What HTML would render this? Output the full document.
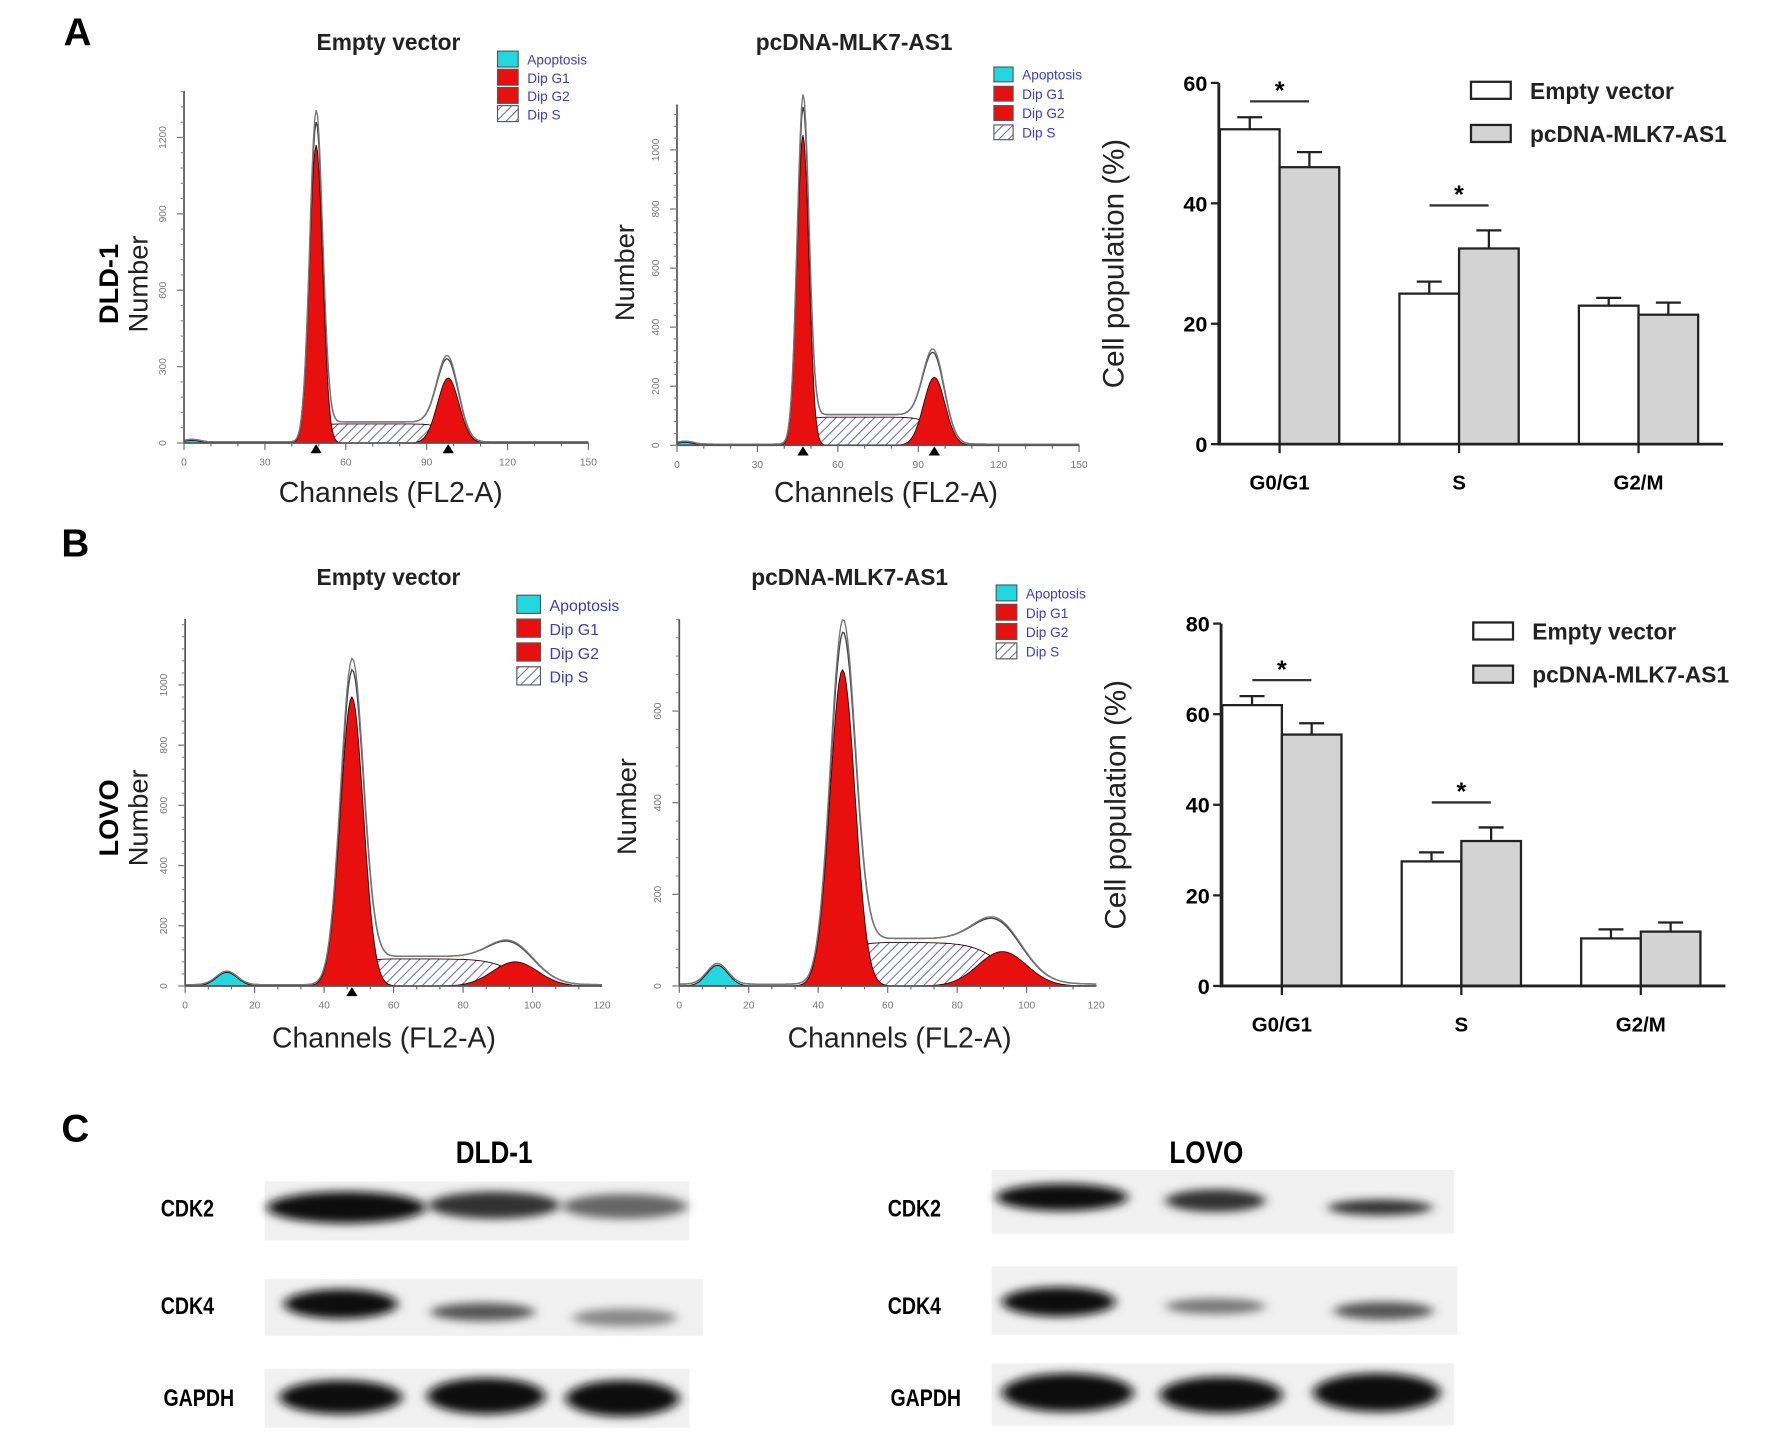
<!DOCTYPE html>
<html><head><meta charset="utf-8"><style>
html,body{margin:0;padding:0;background:#fff;}
svg{display:block;}
text{font-family:"Liberation Sans",Arial,sans-serif;}
</style></head><body>
<svg id="fig" width="1772" height="1446" viewBox="0 0 1560 1273" preserveAspectRatio="none" xmlns="http://www.w3.org/2000/svg">
<defs>
<pattern id="hatch" patternUnits="userSpaceOnUse" width="6" height="6" patternTransform="rotate(45)">
<rect width="6" height="6" fill="#fff"/><line x1="0" y1="0" x2="0" y2="6" stroke="#6a6ab0" stroke-width="1.8"/>
</pattern>
<filter id="blur" x="-30%" y="-80%" width="160%" height="260%"><feGaussianBlur stdDeviation="5 4"/></filter>
</defs>
<text x="56" y="40" font-size="34" font-weight="bold">A</text>
<text x="54" y="490" font-size="34" font-weight="bold">B</text>
<text x="54" y="1005" font-size="34" font-weight="bold">C</text>
<g id="hists"></g><g id="bars"></g><g id="blots"></g>
</svg>
<script>
// ---- histogram data ----
const histXMax = [150, 150, 120, 120];
const histXTickStep = [30, 30, 20, 20];
const histYTicks = [[0,300,600,900,1200],[0,200,400,600,800,1000],[0,200,400,600,800,1000],[0,200,400,600]];
const histG1Mean = [49, 47, 48, 47];
const histG1Height = [1170, 1050, 960, 690];
const histG1Sd = [2.4, 2.2, 3.3, 3.6];
const histG2Mean = [98, 96, 95, 93];
const histG2Height = [255, 230, 80, 75];
const histG2Sd = [4, 4, 6.5, 7];
const histSLevel = [75, 95, 90, 95];
const histApopMean = [3, 3, 12, 11];
const histApopHeight = [10, 10, 45, 45];
const histTitles = ['Empty vector','pcDNA-MLK7-AS1','Empty vector','pcDNA-MLK7-AS1'];
// ---- bar data ----
const barCategories = ['G0/G1','S','G2/M'];
const barAEmpty = [52.3, 25, 23];
const barAEmptyErr = [2, 2, 1.3];
const barAPc = [46, 32.5, 21.5];
const barAPcErr = [2.5, 3, 2];
const barATicks = [0, 20, 40, 60];
const barBEmpty = [62, 27.5, 10.5];
const barBEmptyErr = [2, 2, 2];
const barBPc = [55.5, 32, 12];
const barBPcErr = [2.5, 3, 2];
const barBTicks = [0, 20, 40, 60, 80];

const NS='http://www.w3.org/2000/svg';
function mk(tag, attrs, parent, txt){const e=document.createElementNS(NS,tag);for(const k in attrs)e.setAttribute(k,attrs[k]);if(txt!==undefined)e.textContent=txt;parent.appendChild(e);return e;}
const H=document.getElementById('hists');
const geo=[
 {x0:162,x1:518,base:390,yRef:121,ref:1200,top:80,tx:342,ty:44,lx:438,ly:45,lb:14,ls:16,lf:12,nx:130,ny:250,cx:344,cy:442,cell:'DLD-1',cellx:104},
 {x0:596,x1:950,base:392,yRef:132,ref:1000,top:92,tx:752,ty:44,lx:875,ly:59,lb:13,ls:17,lf:12,nx:558,ny:240,cx:780,cy:442},
 {x0:163,x1:530,base:868,yRef:603,ref:1000,top:545,tx:342,ty:515,lx:455,ly:524,lb:16,ls:21,lf:14,nx:130,ny:720,cx:338,cy:922,cell:'LOVO',cellx:104},
 {x0:598,x1:965,base:868,yRef:626,ref:600,top:545,tx:748,ty:515,lx:877,ly:515,lb:14,ls:17,lf:12,nx:560,ny:710,cx:792,cy:922}
];
function g(x,m,h,s){return h*Math.exp(-0.5*((x-m)/s)**2);}
geo.forEach((G,i)=>{
 const grp=mk('g',{},H);
 
 
 const xm=histXMax[i];
 const px=x=>G.x0+x/xm*(G.x1-G.x0);
 const k=(G.base-G.yRef)/G.ref;
 const py=v=>G.base-v*k;
 const S=x=>histSLevel[i]*0.5*(1+Math.tanh((x-histG1Mean[i])/(histG1Sd[i]*1.2)))*0.5*(1-Math.tanh((x-histG2Mean[i])/(histG2Sd[i]*1.2)));
 const G1=x=>g(x,histG1Mean[i],histG1Height[i],histG1Sd[i]);
 const G2=x=>g(x,histG2Mean[i],histG2Height[i],histG2Sd[i]);
 const A=x=>g(x,histApopMean[i],histApopHeight[i],3);
 function area(f,fill,name){let d='M'+px(0)+','+G.base;for(let x=0;x<=xm;x+=0.5)d+=' L'+px(x).toFixed(1)+','+py(f(x)).toFixed(1);d+=' L'+px(xm)+','+G.base+'Z';const p=mk('path',{d:d,fill:fill,stroke:'#300',"stroke-width":0.8},grp);}
 area(S,'url(#hatch)','s-phase-area');
 area(A,'#22d8e0','apoptosis-area');
 area(G1,'#e8100e','g1-area');
 area(G2,'#e8100e','g2-area');
 [0,1].forEach(j=>{let d='';for(let x=0;x<=xm;x+=0.5){const v=G1(x)*(1.04+j*0.04)+G2(x)*(1.12+j*0.05)+S(x)*1.05+A(x)+4;d+=(x?' L':'M')+px(x).toFixed(1)+','+py(v).toFixed(1);}const p=mk('path',{d:d,fill:'none',stroke:j?'#777':'#444',"stroke-width":1.2},grp);});
 const ax=mk('path',{d:`M${G.x0},${G.top} V${G.base} H${G.x1}`,fill:'none',stroke:'#555',"stroke-width":1.5},grp);
 
 for(let x=0;x<=xm;x+=histXTickStep[i]/3){mk('line',{x1:px(x),x2:px(x),y1:G.base,y2:G.base+(Math.abs(x/histXTickStep[i]-Math.round(x/histXTickStep[i]))<0.01?6:3),stroke:'#666'},grp);}
 for(let x=0;x<=xm;x+=histXTickStep[i]){const t=mk('text',{x:px(x),y:G.base+20,"font-size":9,fill:'#777',"text-anchor":'middle'},grp,x);}
 histYTicks[i].forEach(v=>{mk('line',{x1:G.x0-6,x2:G.x0,y1:py(v),y2:py(v),stroke:'#666'},grp);const t=mk('text',{x:G.x0-16,y:py(v),"font-size":9,fill:'#777',"text-anchor":'middle',transform:`rotate(-90 ${G.x0-16} ${py(v)})`},grp,v);});
 for(let y=G.base;y>G.top;y-=(G.base-G.yRef)/(histYTicks[i].length-1)/5)mk('line',{x1:G.x0-3,x2:G.x0,y1:y,y2:y,stroke:'#888'},grp);
 [histG1Mean[i],histG2Mean[i]].forEach((m,j)=>{if(i===3||(i===2&&j===1))return;const x=px(m);const p=mk('path',{d:`M${x-5},${G.base+9} L${x+5},${G.base+9} L${x},${G.base+1}Z`,fill:'#000'},grp);});
 let t=mk('text',{x:G.tx,y:G.ty,"font-size":20,"font-weight":'bold',"text-anchor":'middle',fill:'#222'},grp,histTitles[i]);
 t=mk('text',{x:G.cx,y:G.cy,"font-size":25,"text-anchor":'middle',fill:'#222'},grp,'Channels (FL2-A)');
 t=mk('text',{x:G.nx,y:G.ny,"font-size":24,"text-anchor":'middle',fill:'#222',transform:`rotate(-90 ${G.nx} ${G.ny})`},grp,'Number');
 if(G.cell){t=mk('text',{x:G.cellx,y:G.ny,"font-size":24,"font-weight":'bold',"text-anchor":'middle',transform:`rotate(-90 ${G.cellx} ${G.ny})`},grp,G.cell);}
 const lg=mk('g',{},grp);
 [['Apoptosis','#22d8e0'],['Dip G1','#e8100e'],['Dip G2','#e8100e'],['Dip S','url(#hatch)']].forEach((e,j)=>{const y=G.ly+j*G.ls;mk('rect',{x:G.lx,y:y,width:G.lb*1.3,height:G.lb,fill:e[1],stroke:'#555'},lg);const tt=mk('text',{x:G.lx+G.lb*1.3+8,y:y+G.lb-2,"font-size":G.lf,fill:'#3a3ad0'},lg,e[0]);});
});
// ---- bar charts ----
const B=document.getElementById('bars');
function barChart(o){
 const grp=mk('g',{},B);
 const py=v=>o.base-v*(o.base-o.topY)/o.max;
 const gx=[o.x0+1,o.x0+159,o.x0+317];const bw=52.5;
 barCategories.forEach((c,j)=>{
  [[o.e[j],o.ee[j],'#fff',0],[o.p[j],o.pe[j],'#d3d3d3',1]].forEach(s=>{const x=gx[j]+s[3]*bw;
   const r=mk('rect',{x:x,y:py(s[0]),width:bw,height:o.base-py(s[0]),fill:s[2],stroke:'#222',"stroke-width":2},grp);
   const cx=x+bw/2;const eb=mk('path',{d:`M${cx},${py(s[0])} V${py(s[0]+s[1])} M${cx-11},${py(s[0]+s[1])} H${cx+11}`,stroke:'#222',"stroke-width":2,fill:'none'},grp);});
  mk('line',{x1:gx[j]+bw,x2:gx[j]+bw,y1:o.base,y2:o.base+8,stroke:'#222',"stroke-width":2},grp);
  const t=mk('text',{x:gx[j]+bw,y:o.base+40,"font-size":18,"font-weight":'bold',"text-anchor":'middle'},grp,c);
 });
 [0,1].forEach(j=>{const top=Math.max(o.e[j]+o.ee[j],o.p[j]+o.pe[j]);const y=py(top)-(j?22:14);const cx=gx[j]+bw;
  const l=mk('line',{x1:cx-26,x2:cx+26,y1:y,y2:y,stroke:'#333',"stroke-width":2},grp);
  const s=mk('text',{x:cx,y:y-2,"font-size":22,"font-weight":'bold',"text-anchor":'middle'},grp,'*');});
 const ax=mk('path',{d:`M${o.x0},${o.topY} V${o.base} H${o.x0+444}`,stroke:'#222',"stroke-width":2.5,fill:'none'},grp);
 o.ticks.forEach(v=>{mk('line',{x1:o.x0-7,x2:o.x0,y1:py(v),y2:py(v),stroke:'#222',"stroke-width":2},grp);const t=mk('text',{x:o.x0-10,y:py(v)+7,"font-size":19,"font-weight":'bold',"text-anchor":'end'},grp,v);});
 const yc=(o.base+o.topY)/2;const t=mk('text',{x:o.x0-84,y:yc,"font-size":26,"text-anchor":'middle',fill:'#222',transform:`rotate(-90 ${o.x0-84} ${yc})`},grp,'Cell population (%)');
 [['Empty vector','#fff'],['pcDNA-MLK7-AS1','#d3d3d3']].forEach((e,j)=>{const y=o.ly+j*38;mk('rect',{x:o.x0+222,y:y,width:35,height:15,fill:e[1],stroke:'#222',"stroke-width":2},grp);const tt=mk('text',{x:o.x0+274,y:y+15,"font-size":20,"font-weight":'bold',fill:'#222'},grp,e[0]);});
}
barChart({name:'bar-chart-a',x0:1073,base:391,topY:73,max:60,e:barAEmpty,ee:barAEmptyErr,p:barAPc,pe:barAPcErr,ticks:barATicks,ly:72});
barChart({name:'bar-chart-b',x0:1075,base:868,topY:549,max:80,e:barBEmpty,ee:barBEmptyErr,p:barBPc,pe:barBPcErr,ticks:barBTicks,ly:548});
// ---- blots ----
const W=document.getElementById('blots');
function txt(x,y,s,fs,name){const t=mk('text',{x:x,y:y,"font-size":fs,"font-weight":'bold',"text-anchor":'middle',transform:`scale(0.82,1) translate(${x/0.82-x},0)`},W,s);}
txt(435,1024,'DLD-1',28,'blot-title-dld1');txt(1062,1024,'LOVO',28,'blot-title-lovo');
[['CDK2',1071],['CDK4',1157],['GAPDH',1238]].forEach(r=>{txt(r[0]==='GAPDH'?175:165,r[1],r[0],21,'blot-label');txt(r[0]==='GAPDH'?815:805,r[1],r[0],21,'blot-label');});
const bg=[[233,1040,374,52],[233,1126,386,50],[233,1205,374,52],[873,1030,407,56],[873,1115,410,60],[873,1200,407,55]];
bg.forEach(b=>{const r=mk('rect',{x:b[0],y:b[1],width:b[2],height:b[3],fill:'#f1f1f1'},W);});
const bands=[[305,1063,70,14,'#111'],[435,1061,58,12,'#333'],[550,1062,55,11,'#666'],
[300,1148,50,13,'#111'],[425,1155,46,8,'#555'],[550,1160,46,8,'#888'],
[300,1230,54,15,'#0a0a0a'],[428,1229,52,16,'#0a0a0a'],[548,1231,50,16,'#0a0a0a'],
[935,1054,58,12,'#111'],[1070,1057,44,10,'#333'],[1215,1063,46,7,'#333'],
[932,1146,50,13,'#111'],[1070,1150,44,7,'#777'],[1218,1154,44,8,'#555'],
[940,1226,58,17,'#0a0a0a'],[1075,1228,54,16,'#0a0a0a'],[1212,1226,56,17,'#0a0a0a']];
bands.forEach(b=>{const e=mk('ellipse',{cx:b[0],cy:b[1],rx:b[2],ry:b[3],fill:b[4],filter:'url(#blur)'},W);});
</script>
</body></html>
